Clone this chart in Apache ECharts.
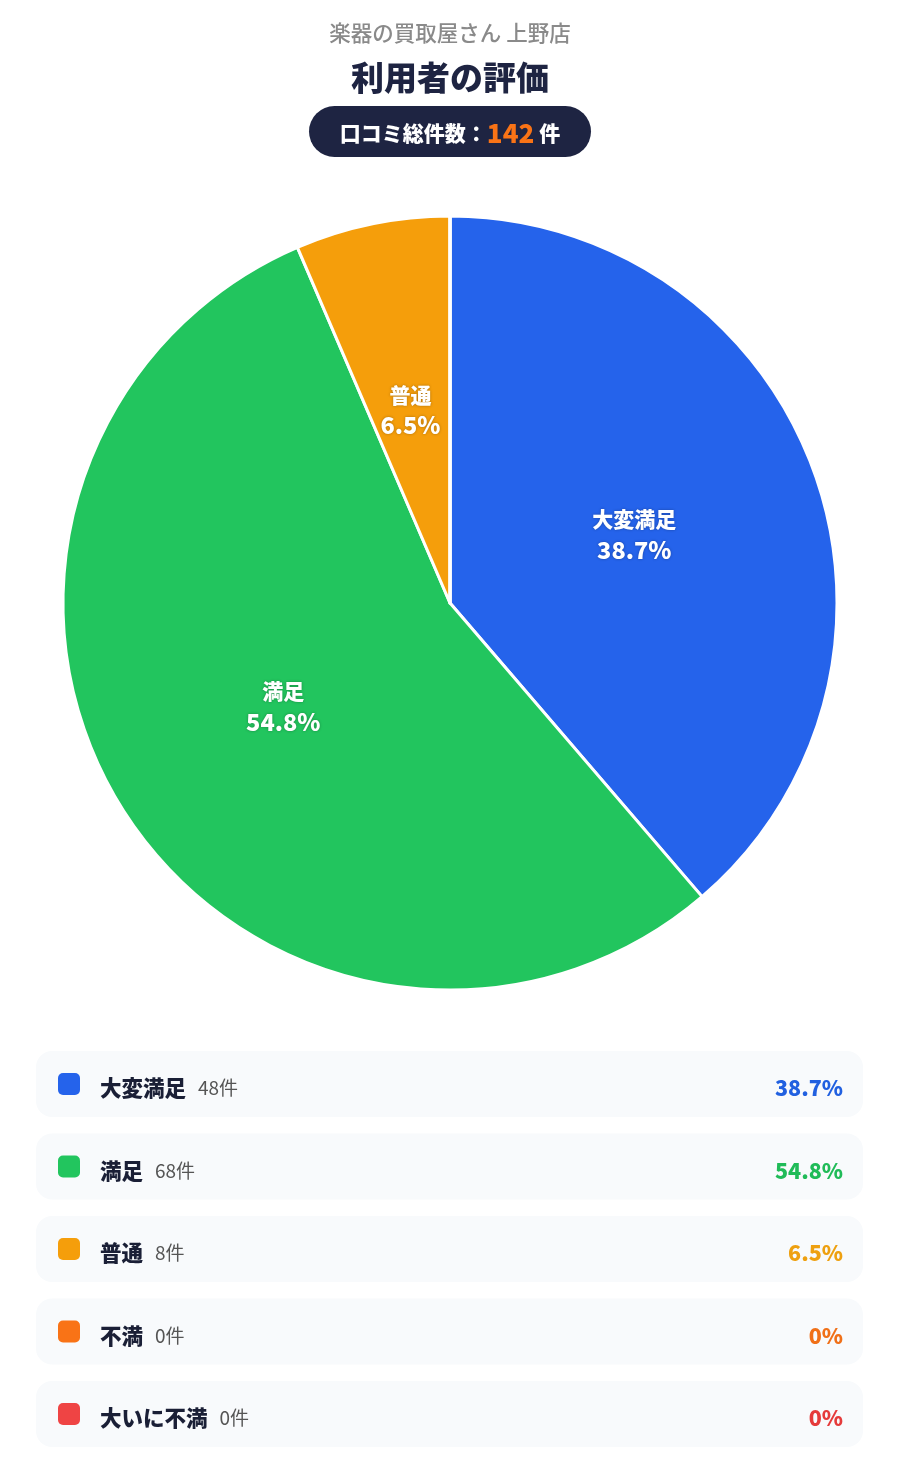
<!DOCTYPE html>
<html><head><meta charset="utf-8">
<script src="https://cdn.jsdelivr.net/npm/echarts@6/dist/echarts.min.js"></script>
<style>html,body{margin:0;padding:0;background:#fff;}#c{width:900px;height:1479px;}</style>
</head><body><div id="c"></div>
<script>
const storeName = '楽器の買取屋さん 上野店';
const chartTitle = '利用者の評価';
const totalReviews = 142;
const categories = ['大変満足', '満足', '普通', '不満', '大いに不満'];
const counts = [48, 68, 8, 0, 0];
const percentLabels = ['38.7%', '54.8%', '6.5%', '0%', '0%'];
const colors = ['#2563eb', '#22c55e', '#f59e0b', '#f97316', '#ef4444'];
const pctColors = ['#2160e0', '#20bb58', '#eea010', '#f07018', '#e53b3b'];

const FONT = '"Noto Sans CJK JP", "Noto Sans", sans-serif';
const chart = echarts.init(document.getElementById('c'));

const graphics = [
  { type: 'text', x: 450, y: 33, style: { text: storeName, align: 'center', verticalAlign: 'middle', font: '500 21.5px ' + FONT, fill: '#8a8a8a' } },
  { type: 'text', x: 450, y: 77, style: { text: chartTitle, align: 'center', verticalAlign: 'middle', font: '900 33px ' + FONT, fill: '#1e2442' } },
  { type: 'rect', shape: { x: 309, y: 106, width: 282, height: 51, r: 25.5 }, style: { fill: '#1e2442' } },
  { type: 'text', x: 450, y: 133, style: {
      text: '{a|口コミ総件数：}{b|' + totalReviews + '}{a| 件}',
      align: 'center', verticalAlign: 'middle',
      rich: {
        a: { font: '900 21px ' + FONT, fill: '#ffffff' },
        b: { font: '900 26px ' + FONT, fill: '#f97316' }
      } } }
];

categories.forEach((name, i) => {
  const y = 1051 + i * 82.5;
  graphics.push({ type: 'rect', shape: { x: 36, y: y, width: 827, height: 66, r: 16 }, style: { fill: '#f8fafc' } });
  graphics.push({ type: 'rect', shape: { x: 58, y: y + 22, width: 22, height: 22, r: 5 }, style: { fill: colors[i] } });
  graphics.push({ type: 'text', x: 100, y: y + 37, style: {
    text: '{n|' + name + '}{c|' + counts[i] + '件}', verticalAlign: 'middle',
    rich: { n: { font: '900 21.5px ' + FONT, fill: '#1a1f36' }, c: { font: '19px ' + FONT, fill: '#555', padding: [0, 0, 0, 12] } } } });
  graphics.push({ type: 'text', x: 843, y: y + 37, style: {
    text: percentLabels[i], align: 'right', verticalAlign: 'middle', font: '900 21.5px ' + FONT, fill: pctColors[i] } });
});

chart.setOption({
  animation: false,
  graphic: graphics,
  series: [{
    type: 'pie',
    center: [450, 603],
    radius: [0, 387],
    startAngle: 90,
    clockwise: true,
    avoidLabelOverlap: false,
    itemStyle: { borderColor: '#ffffff', borderWidth: 3 },
    label: {
      show: true, position: 'inside',
      formatter: p => p.value > 0 ? '{n|' + p.name + '}\n{p|' + percentLabels[p.dataIndex] + '}' : '',
      color: '#ffffff', fontFamily: FONT, fontWeight: 900,
      textShadowColor: 'rgba(0,0,0,0.3)', textShadowBlur: 3,
      rich: {
        n: { fontSize: 21, fontWeight: 900, lineHeight: 30, color: '#fff', fontFamily: FONT, textShadowColor: 'rgba(0,0,0,0.3)', textShadowBlur: 3 },
        p: { fontSize: 23.5, fontWeight: 900, lineHeight: 32, color: '#fff', fontFamily: FONT, textShadowColor: 'rgba(0,0,0,0.3)', textShadowBlur: 3 }
      }
    },
    labelLine: { show: false },
    data: categories.map((n, i) => ({ name: n, value: counts[i], itemStyle: { color: colors[i] } }))
  }]
});
</script></body></html>
